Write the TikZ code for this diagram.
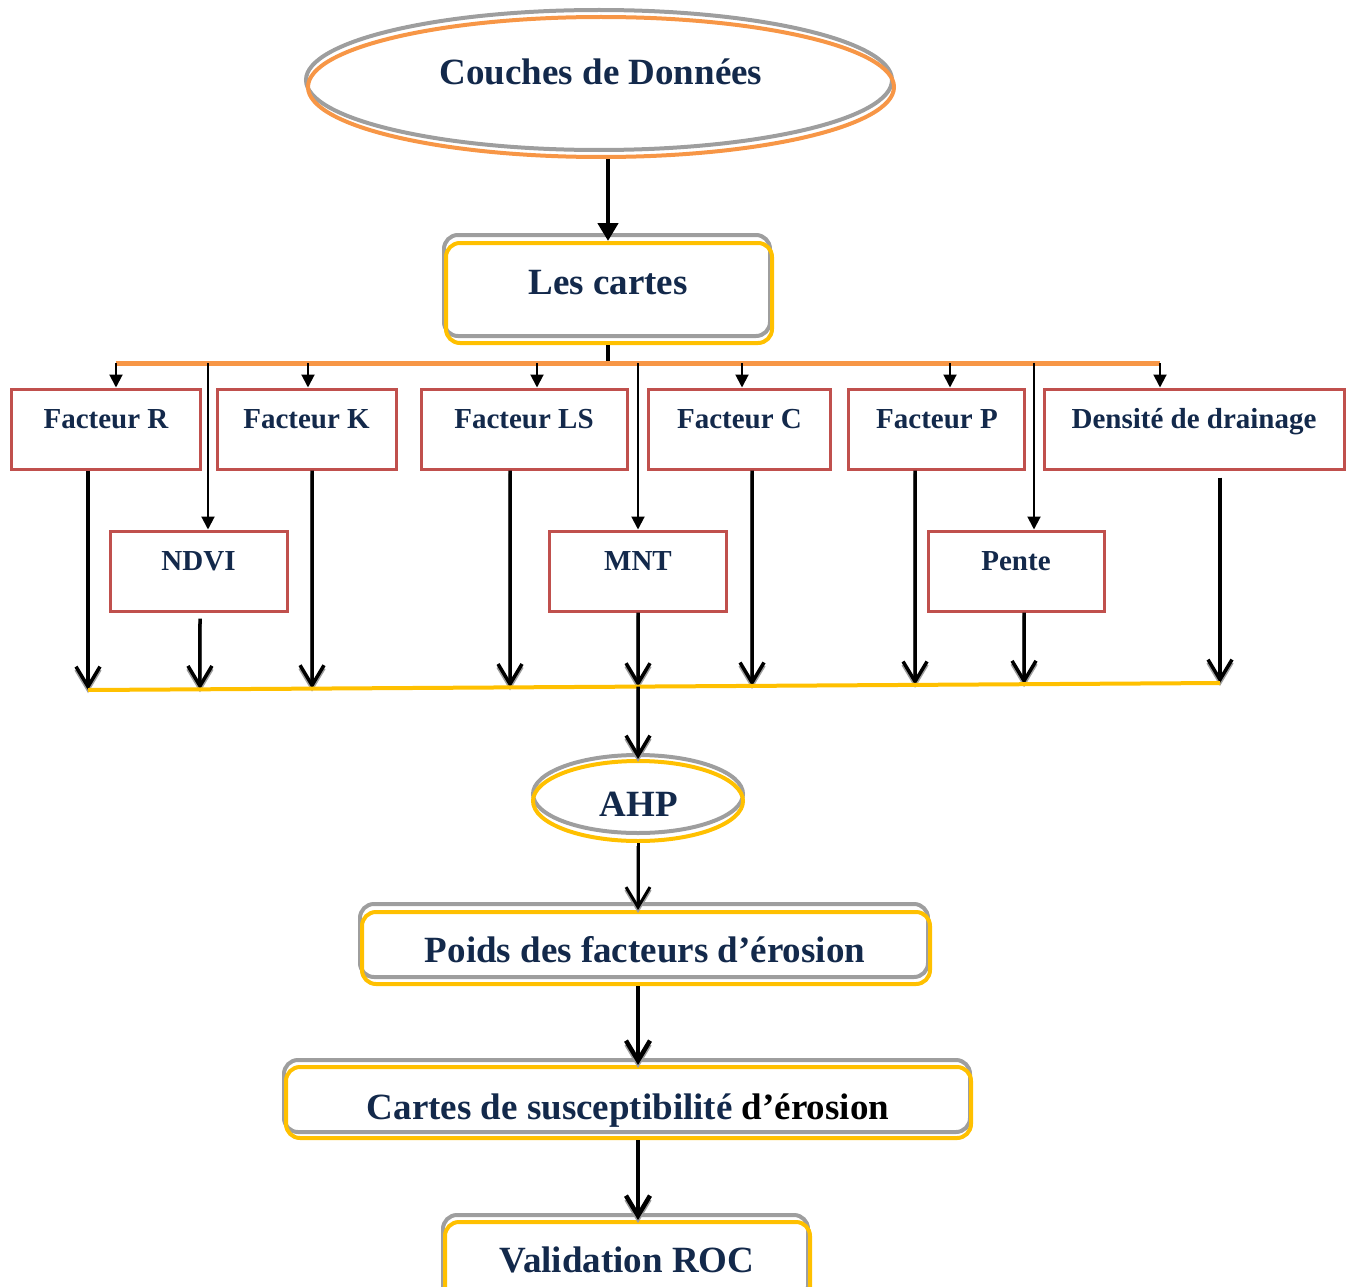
\documentclass[tikz,border=0pt]{standalone}
\usepackage{fontspec}
\setmainfont{Liberation Serif}
\usetikzlibrary{arrows.meta,shapes.geometric,calc}
\definecolor{navy}{HTML}{13294B}
\definecolor{boxred}{HTML}{C0504D}
\definecolor{orng}{HTML}{F79646}
\definecolor{yel}{HTML}{FFC000}
\definecolor{shgray}{HTML}{9E9E9E}
\begin{document}
\begin{tikzpicture}[x=1pt,y=-1pt,
  bigtxt/.style={font=\fontsize{37}{44}\selectfont\bfseries, text=navy, inner sep=0pt, anchor=base},
  smalltxt/.style={font=\fontsize{29}{35}\selectfont\bfseries, text=navy, inner sep=0pt, anchor=base},
  redbox/.style={rectangle, draw=boxred, line width=3pt, minimum height=80pt, inner sep=0pt},
  ybox/.style={rectangle, draw=yel, line width=4pt, rounded corners=14pt, inner sep=0pt},
  gframe/.style={draw=shgray, line width=4pt, rounded corners=14pt},
  mainarr/.style={draw, line width=4.5pt, -{Triangle[length=18pt,width=20pt]}},
  smallarr/.style={draw, line width=2pt, -{Triangle[length=13pt,width=13pt]}},
  barb/.style={draw, line width=3.5pt, -{Straight Barb[length=20pt,width=24pt]},
    preaction={draw=shgray, line width=3.5pt, -{Straight Barb[length=20pt,width=24pt]}, transform canvas={yshift=-3pt}}}
]
\useasboundingbox (0,0) rectangle (1354,1287);
\clip (0,0) rectangle (1354,1287);

% Couches de Donnees
\draw[shgray, line width=4pt] (599,80) ellipse [x radius=293, y radius=70];
\node[ellipse, draw=orng, line width=4pt, minimum width=586pt, minimum height=140pt, inner sep=0pt] (couches) at (601,87) {};
\node[bigtxt] (tcouches) at (601,85) {Couches de Données};

% Les cartes
\draw[gframe] (444,235) rectangle (770,336);
\node[ybox, minimum width=326pt, minimum height=100pt] (cartes) at (609,293) {};
\node[bigtxt] (tcartes) at (608,294) {Les cartes};

\draw[mainarr] (608,0 |- couches.south) -- (608,0 |- cartes.north);

\coordinate (hub) at (608,363);
\draw[line width=4pt] (608,0 |- cartes.south) -- (hub);

\coordinate (oL) at (116,363);
\coordinate (oR) at (1160,363);
\draw[orng, line width=5pt] (oL) -- (oR);

% Row 1
\node[redbox, minimum width=189pt] (fR) at (105.5,429) {};
\node[redbox, minimum width=179pt] (fK) at (306.5,429) {};
\node[redbox, minimum width=206pt] (fLS) at (524,429) {};
\node[redbox, minimum width=182pt] (fC) at (739,429) {};
\node[redbox, minimum width=176pt] (fP) at (936,429) {};
\node[redbox, minimum width=300pt] (fD) at (1194,429) {};
\node[smalltxt] (tR) at (106,428) {Facteur R};
\node[smalltxt] (tK) at (306.5,428) {Facteur K};
\node[smalltxt] (tLS) at (524,428) {Facteur LS};
\node[smalltxt] (tC) at (739.5,428) {Facteur C};
\node[smalltxt] (tP) at (937,428) {Facteur P};
\node[smalltxt] (tD) at (1194,428) {Densité de drainage};

% Row 2
\node[redbox, minimum width=177pt] (ndvi) at (198.5,571) {};
\node[redbox, minimum width=177pt] (mnt) at (637.5,571) {};
\node[redbox, minimum width=176pt] (pente) at (1016,571) {};
\node[smalltxt] (tndvi) at (198.5,570) {NDVI};
\node[smalltxt] (tmnt) at (638,570) {MNT};
\node[smalltxt] (tpente) at (1016,570) {Pente};

% small arrows from orange line
\draw[smallarr] (116,0 |- oL) -- (116,0 |- fR.north);
\draw[smallarr] (308,0 |- oL) -- (308,0 |- fK.north);
\draw[smallarr] (537,0 |- oL) -- (537,0 |- fLS.north);
\draw[smallarr] (742,0 |- oL) -- (742,0 |- fC.north);
\draw[smallarr] (950,0 |- oL) -- (950,0 |- fP.north);
\draw[smallarr] (1160,0 |- oL) -- (1160,0 |- fD.north);
\draw[smallarr] (208,0 |- oL) -- (208,0 |- ndvi.north);
\draw[smallarr] (638,0 |- oL) -- (638,0 |- mnt.north);
\draw[smallarr] (1034,0 |- oL) -- (1034,0 |- pente.north);

% yellow collector line
\coordinate (yL) at (88,690);
\coordinate (yR) at (1220,683);

\draw[barb] (88,0 |- fR.south) -- ($(yL)!0!(yR)$);
\draw[barb] ([yshift=-6pt]200,0 |- ndvi.south) -- ($(yL)!0.0989!(yR)$);
\draw[barb] (312,0 |- fK.south) -- ($(yL)!0.1979!(yR)$);
\draw[barb] (510,0 |- fLS.south) -- ($(yL)!0.3728!(yR)$);
\draw[barb] (638,0 |- mnt.south) -- ($(yL)!0.4859!(yR)$);
\draw[barb] (752,0 |- fC.south) -- ($(yL)!0.5866!(yR)$);
\draw[barb] (915,0 |- fP.south) -- ($(yL)!0.7306!(yR)$);
\draw[barb] (1024,0 |- pente.south) -- ($(yL)!0.8269!(yR)$);
\draw[barb] ([yshift=-7pt]1220,0 |- fD.south) -- ($(yL)!1!(yR)$);

\draw[yel, line width=4pt] (yL) -- (yR);

% AHP
\draw[shgray, line width=4pt] (638,794) ellipse [x radius=105, y radius=39];
\node[ellipse, draw=yel, line width=4pt, minimum width=210pt, minimum height=80pt, inner sep=0pt] (ahp) at (638,801) {};
\node[bigtxt] (tahp) at (639,816) {AHP};
\draw[barb] ($(yL)!0.4859!(yR)$) -- (ahp.north);

% Poids
\draw[gframe] (360,904) rectangle (928,977);
\node[ybox, minimum width=568pt, minimum height=72pt] (poids) at (646,948) {};
\node[bigtxt] (tpoids) at (645,962) {Poids des facteurs d’érosion};
\draw[barb, line width=3pt] (ahp.south) -- (ahp.south |- poids.north);

% Cartes de susceptibilite
\draw[gframe] (284,1060) rectangle (970,1132);
\node[ybox, minimum width=685pt, minimum height=71pt] (susc) at (628.5,1102.5) {};
\node[bigtxt] (tsusc) at (628,1119) {Cartes de susceptibilité \textcolor{black}{d’érosion}};
\draw[barb, line width=4.5pt] (638,0 |- poids.south) -- (638,0 |- susc.north);

% Validation ROC
\draw[gframe] (443,1215) rectangle (808,1300);
\node[ybox, minimum width=365pt, minimum height=80pt] (valid) at (627.5,1262) {};
\node[bigtxt] (tvalid) at (627,1272) {Validation ROC};
\draw[barb, line width=4.5pt] (638,0 |- susc.south) -- (638,0 |- valid.north);
\end{tikzpicture}
\end{document}
